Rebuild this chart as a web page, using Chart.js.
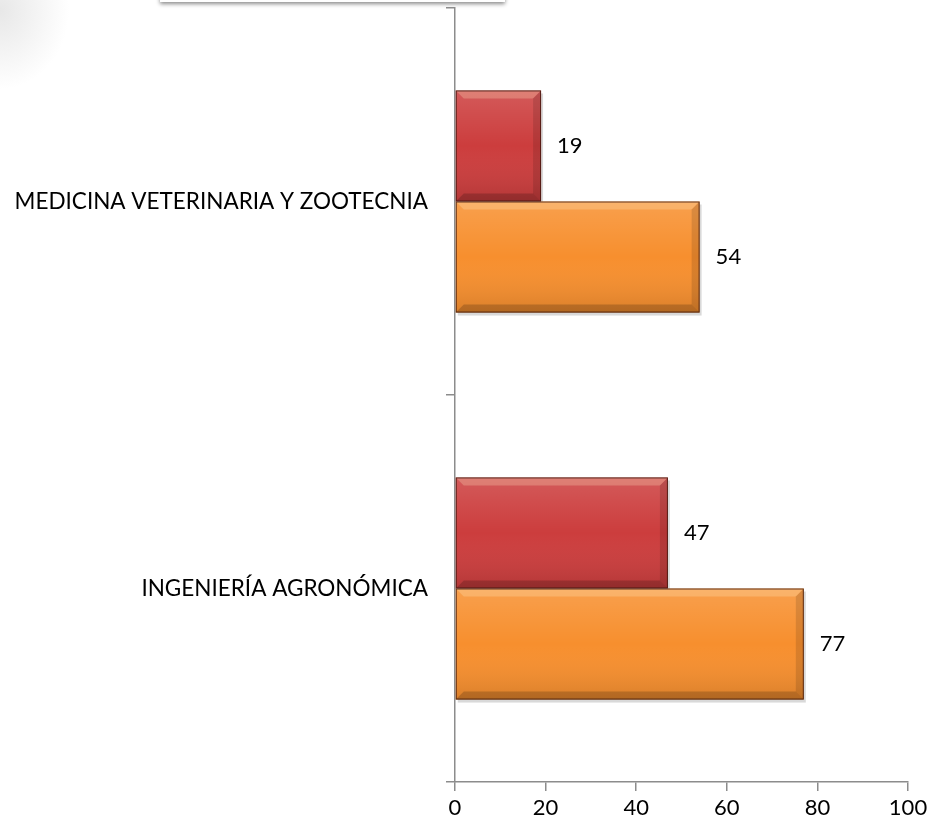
<!DOCTYPE html>
<html>
<head>
<meta charset="utf-8">
<script src="https://cdn.jsdelivr.net/npm/chart.js@4"></script>
<style>
  html, body { margin: 0; padding: 0; background: #fff; }
  #wrap { position: relative; width: 931px; height: 829px; overflow: hidden; }
  #corner { position: absolute; left: -40px; top: -40px; width: 110px; height: 130px;
    background: radial-gradient(ellipse at 40px 50px, rgba(170,170,170,0.28), rgba(255,255,255,0) 70%); }
  #box { position: absolute; left: 160px; top: -20px; width: 345px; height: 22px;
    background: #fff; box-shadow: 0 2px 4px rgba(0,0,0,0.45); }
  canvas { position: absolute; left: 0; top: 0; }
</style>
</head>
<body>
<div id="wrap">
  <div id="corner"></div>
  <div id="box"></div>
  <canvas id="chart" width="931" height="829"></canvas>
</div>
<script>
const categories = ["MEDICINA VETERINARIA Y ZOOTECNIA", "INGENIERÍA AGRONÓMICA"];
const redValues = [19, 47];
const orangeValues = [54, 77];
const xTicks = [0, 20, 40, 60, 80, 100];

const font = "Lato";
const axisGrey = "#8c8c8c";

// value labels to the right of each bar
const valueLabels = {
  id: "valueLabels",
  afterDatasetsDraw(chart) {
    const ctx = chart.ctx;
    ctx.save();
    ctx.font = "22px " + font;
    ctx.fillStyle = "#000";
    ctx.textBaseline = "middle";
    chart.data.datasets.forEach((ds, i) => {
      chart.getDatasetMeta(i).data.forEach((bar, j) => {
        ctx.fillText(ds.data[j], bar.x + 16, bar.y);
      });
    });
    ctx.restore();
  }
};

// bevel / shading on the bars
const bevel = {
  id: "bevel",
  beforeDatasetsDraw(chart) {
    const ctx = chart.ctx;
    ctx.save();
    chart.data.datasets.forEach((ds, i) => {
      chart.getDatasetMeta(i).data.forEach((bar) => {
        const top = bar.y - bar.height / 2;
        ctx.fillStyle = "rgba(0,0,0,0.15)";
        ctx.fillRect(bar.base + 2, top + 3, bar.x - bar.base, bar.height);
      });
    });
    ctx.restore();
  },
  afterDatasetsDraw(chart) {
    const ctx = chart.ctx;
    ctx.save();
    chart.data.datasets.forEach((ds, i) => {
      chart.getDatasetMeta(i).data.forEach((bar) => {
        const top = bar.y - bar.height / 2;
        const bottom = bar.y + bar.height / 2;
        const left = bar.base;
        const right = bar.x;
        const g = ctx.createLinearGradient(0, top, 0, bottom);
        g.addColorStop(0, "rgba(255,255,255,0.15)");
        g.addColorStop(0.5, "rgba(255,255,255,0)");
        g.addColorStop(1, "rgba(0,0,0,0.12)");
        ctx.fillStyle = g;
        ctx.fillRect(left, top, right - left, bottom - top);
        const b = 8;
        // top bevel
        ctx.fillStyle = "rgba(255,240,200,0.25)";
        ctx.beginPath();
        ctx.moveTo(left, top); ctx.lineTo(right, top);
        ctx.lineTo(right - b, top + b); ctx.lineTo(left + b, top + b);
        ctx.closePath(); ctx.fill();
        // bottom bevel
        ctx.fillStyle = "rgba(0,0,0,0.18)";
        ctx.beginPath();
        ctx.moveTo(left, bottom); ctx.lineTo(right, bottom);
        ctx.lineTo(right - b, bottom - b); ctx.lineTo(left + b, bottom - b);
        ctx.closePath(); ctx.fill();
        // right bevel
        ctx.fillStyle = "rgba(0,0,0,0.12)";
        ctx.beginPath();
        ctx.moveTo(right, top); ctx.lineTo(right, bottom);
        ctx.lineTo(right - b, bottom - b); ctx.lineTo(right - b, top + b);
        ctx.closePath(); ctx.fill();
        ctx.strokeStyle = "rgba(60,20,10,0.8)";
        ctx.lineWidth = 1;
        ctx.strokeRect(left + 0.5, top + 0.5, right - left - 1, bottom - top - 1);
      });
    });
    ctx.restore();
  }
};

new Chart(document.getElementById("chart"), {
  type: "bar",
  data: {
    labels: categories,
    datasets: [
      { data: redValues, backgroundColor: "#cc3d3d", borderWidth: 0 },
      { data: orangeValues, backgroundColor: "#f78f2e", borderWidth: 0 }
    ]
  },
  options: {
    indexAxis: "y",
    responsive: false,
    animation: false,
    layout: { padding: { top: 8, right: 23, left: 0, bottom: 0 } },
    datasets: { bar: { categoryPercentage: 0.574, barPercentage: 1 } },
    plugins: { legend: { display: false }, tooltip: { enabled: false } },
    scales: {
      x: {
        min: 0,
        max: 100,
        afterBuildTicks(scale) { scale.ticks = xTicks.map(v => ({ value: v })); },
        border: { color: axisGrey, width: 1.5 },
        grid: { drawOnChartArea: false, color: axisGrey, tickLength: 9, lineWidth: 1.5 },
        ticks: { color: "#000", font: { family: font, size: 22 }, padding: 4 },
        afterFit(scale) { scale.height = 47; scale.paddingLeft = 0; scale.paddingRight = 0; }
      },
      y: {
        border: { color: axisGrey, width: 1.5 },
        grid: { drawOnChartArea: false, color: axisGrey, tickLength: 9, lineWidth: 1.5, offset: true },
        ticks: { color: "#000", font: { family: font, size: 22.5 }, padding: 18 },
        afterFit(scale) { scale.width = 455; scale.paddingTop = 0; scale.paddingBottom = 0; }
      }
    }
  },
  plugins: [bevel, valueLabels]
});
</script>
</body>
</html>
